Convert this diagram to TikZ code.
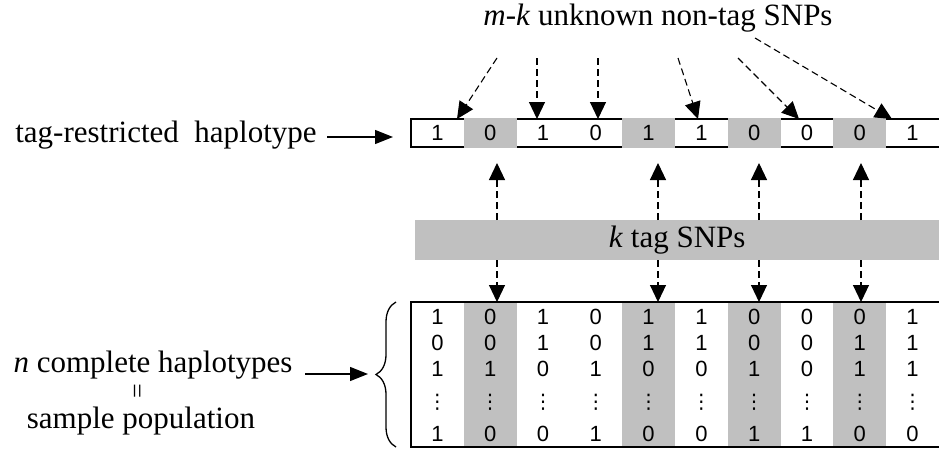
\documentclass[tikz,border=0pt]{standalone}
\usepackage{fontspec}
\setmainfont{Liberation Serif}
\newfontfamily\arialfont{Liberation Sans}
\newfontfamily\dejavufont{DejaVu Sans}
\usetikzlibrary{arrows.meta,decorations.pathreplacing}
\definecolor{tagGray}{RGB}{192,192,192}
\begin{document}
\begin{tikzpicture}[x=1pt,y=-1pt,
  bigtxt/.style={font=\fontsize{31}{36}\selectfont, inner sep=0pt},
  digit/.style={font=\arialfont\fontsize{22}{24}\selectfont, inner sep=0pt},
  vdot/.style={font=\dejavufont\fontsize{20}{24}\selectfont, inner sep=0pt},
  dasharrow/.style={line width=1.1pt, dash pattern=on 7pt off 4pt, -{Triangle[length=17pt,width=16pt]}},
  solidarrow/.style={line width=1.4pt, -{Triangle[length=18pt,width=14pt]}},
  frame/.style={line width=2pt},
]
\useasboundingbox (0,0) rectangle (939,450);

% title
\node[bigtxt, anchor=base] (title) at (658,25) {\textit{m}-\textit{k} unknown non-tag SNPs};

% top row (tag-restricted haplotype)
\node[minimum width=528pt, minimum height=28pt, inner sep=0pt, anchor=north west] (row) at (411,119) {};
\draw[frame] (row.north east) -- (row.north west) -- (row.south west) -- (row.south east);
\foreach \c in {2,5,7,9}
  \fill[tagGray] ({411+52.8*(\c-1)},117.8) rectangle ({411+52.8*\c},148.2);
\foreach \v [count=\c] in {1,0,1,0,1,1,0,0,0,1}
  \node[digit] (t\c) at ({411+52.8*\c-26.4},133) {\v};

% band
\node[fill=tagGray, minimum width=524pt, minimum height=40pt, inner sep=0pt, anchor=north west, font=\fontsize{31}{36}\selectfont] (band) at (415,220) {\textit{k} tag SNPs};

% bottom table
\node[minimum width=528pt, minimum height=145pt, inner sep=0pt, anchor=north west] (tbl) at (411,302) {};
\foreach \c in {2,5,7,9}
  \fill[tagGray] ({411+52.8*(\c-1)},302) rectangle ({411+52.8*\c},447);
\draw[frame] (tbl.north east) -- (tbl.north west) -- (tbl.south west) -- (tbl.south east);
\foreach \rowy/\vals [count=\r] in {317/{1,0,1,0,1,1,0,0,0,1},343/{0,0,1,0,1,1,0,0,1,1},369/{1,1,0,1,0,0,1,0,1,1},434/{1,0,0,1,0,0,1,1,0,0}}{
  \foreach \v [count=\c] in \vals
    \node[digit] (b\r-\c) at ({411+52.8*\c-26.4},\rowy) {\v};
}
\foreach \c in {1,...,10}
  \node[vdot] (d\c) at ({411+52.8*\c-26.4},402) {⋮};

% arrows from the title to the top row
\coordinate (s1) at (497,58);  \coordinate (e1) at (457,119);
\coordinate (s2) at (537,58);  \coordinate (e2) at (537,119);
\coordinate (s3) at (598,58);  \coordinate (e3) at (598,119);
\coordinate (s4) at (678,58);  \coordinate (e4) at (698,119);
\coordinate (s5) at (738,58);  \coordinate (e5) at (799,119);
\coordinate (s6) at (755,38);  \coordinate (e6) at (892,119);
\foreach \i in {1,...,6}
  \draw[dasharrow] (s\i) -- (e\i);

% tag SNP arrows
\coordinate (u1) at (497,163);
\coordinate (u2) at (658,163);
\coordinate (u3) at (759,163);
\coordinate (u4) at (861,163);
\foreach \i in {1,...,4}{
  \draw[dasharrow] (band.north -| u\i) -- (u\i);
  \draw[dasharrow] (band.south -| u\i) -- (tbl.north -| u\i);
}

% left labels
\node[bigtxt, anchor=base] (lab1) at (166,142) {tag-restricted\ \ haplotype};
\coordinate (l1s) at (327,137); \coordinate (l1e) at (393,137);
\draw[solidarrow] (l1s) -- (l1e);

\node[bigtxt, anchor=base] (lab2) at (153,372) {\textit{n} complete haplotypes};
\coordinate (l2s) at (305,374); \coordinate (l2e) at (368,374);
\draw[solidarrow] (l2s) -- (l2e);

\node[rotate=90, inner sep=0pt, font=\fontsize{26}{28}\selectfont] (eq) at (140,391) {=};
\node[bigtxt, anchor=base] (lab3) at (141,428) {sample population};

% brace
\coordinate (br1) at (396,447); \coordinate (br2) at (396,302);
\draw[line width=1.3pt, decorate, decoration={brace, amplitude=20pt}] (br1) -- (br2);
\end{tikzpicture}
\end{document}
